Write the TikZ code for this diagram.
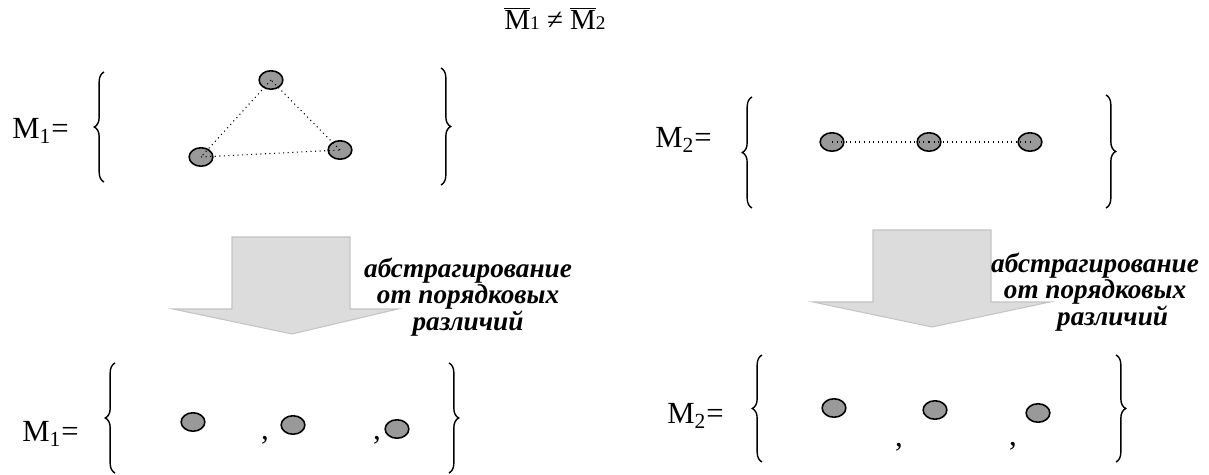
\documentclass[tikz,border=0pt]{standalone}
\usepackage{fontspec}
\setmainfont{Liberation Serif}
\usetikzlibrary{shapes.geometric,decorations.pathreplacing}
\definecolor{dotgray}{HTML}{999999}
\definecolor{arrowfill}{HTML}{DCDCDC}
\definecolor{arrowedge}{HTML}{C4C4C4}

\begin{document}
\begin{tikzpicture}[
  x=0.02cm, y=-0.02cm,
  dot/.style={ellipse, draw, line width=0.9pt, fill=dotgray,
              minimum width=13.5pt, minimum height=10.5pt, inner sep=0pt},
  link/.style={dotted, line width=0.6pt},
  brc/.style={decorate, decoration={brace, amplitude=5.5pt}, line width=0.8pt},
  blockarrow/.style={fill=arrowfill, draw=arrowedge, line width=0.6pt},
  setname/.style={font=\fontsize{17.5}{20}\selectfont, anchor=base west, inner sep=0pt},
  note/.style={font=\fontsize{15.5}{12.8}\selectfont\bfseries\itshape, align=center},
  sep/.style={font=\fontsize{17.5}{20}\selectfont, inner sep=0pt, anchor=base},
]
  \useasboundingbox (0,0) rectangle (1209,475);

  % Title
  \node[font=\fontsize{16.5}{18}\selectfont, anchor=base] (title) at (555,30)
    {\ensuremath{\overline{\mbox{M}}}{\fontsize{11}{12}\selectfont 1} ≠
     \ensuremath{\overline{\mbox{M}}}{\fontsize{11}{12}\selectfont 2}};

  % Top left: triangle
  \node[setname] (m1a) at (12,139) {M\textsubscript{1}=};
  \draw[brc] (104,182) -- (104,72);
  \node[dot] (a1) at (271,80) {};
  \node[dot] (a2) at (201,157) {};
  \node[dot] (a3) at (340,150) {};
  \draw[link] (a1.center) -- (a2.center);
  \draw[link] (a2.center) -- (a3.center);
  \draw[link] (a3.center) -- (a1.center);
  \draw[brc] (441,68) -- (441,185);

  % Top right: chain
  \node[setname] (m2a) at (655,148) {M\textsubscript{2}=};
  \draw[brc] (752,208) -- (752,97);
  \node[dot] (b1) at (832,142) {};
  \node[dot] (b2) at (929,142) {};
  \node[dot] (b3) at (1030,142) {};
  \draw[link] (b1.center) -- (b2.center);
  \draw[link] (b2.center) -- (b3.center);
  \draw[brc] (1106,95) -- (1106,208);

  % Block arrows
  \draw[blockarrow] (232,237) -- (350,237) -- (350,309) -- (398,309)
    -- (292,334) -- (173,309) -- (232,309) -- cycle;
  \draw[blockarrow] (873,230) -- (991,230) -- (991,302) -- (1050,302)
    -- (932,327) -- (813,302) -- (873,302) -- cycle;

  \node[note] (lbl1) at (468,297)
    {абстрагирование\\от порядковых\\различий};
  \node[note] (lbl2) at (1095,292)
    {абстрагирование\\от порядковых\\\hspace*{20pt}различий};

  % Bottom left
  \node[setname] (m1b) at (22,442) {M\textsubscript{1}=};
  \draw[brc] (115,473) -- (115,363);
  \node[dot] (c1) at (193,422) {};
  \node[sep] (k1) at (265,440) {,};
  \node[dot] (c2) at (293,425) {};
  \node[sep] (k2) at (377,440) {,};
  \node[dot] (c3) at (397,429) {};
  \draw[brc] (449,363) -- (449,473);

  % Bottom right
  \node[setname] (m2b) at (667,424) {M\textsubscript{2}=};
  \draw[brc] (762,462) -- (762,355);
  \node[dot] (d1) at (834,408) {};
  \node[sep] (k3) at (899,447) {,};
  \node[dot] (d2) at (935,410) {};
  \node[sep] (k4) at (1013,446) {,};
  \node[dot] (d3) at (1038,413) {};
  \draw[brc] (1116,355) -- (1116,462);
\end{tikzpicture}
\end{document}
